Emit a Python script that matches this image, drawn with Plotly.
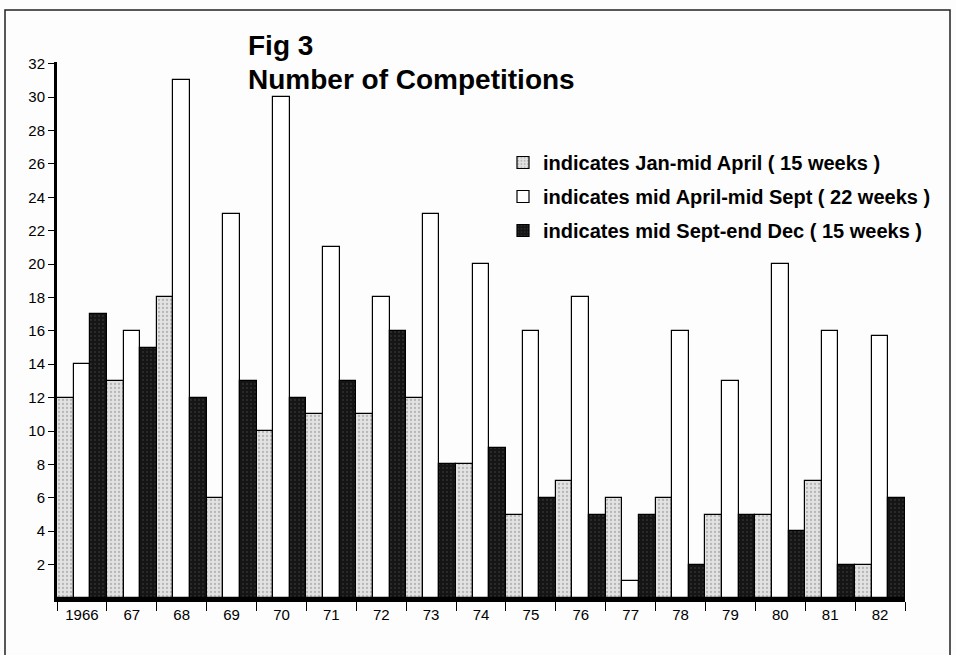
import plotly.graph_objects as go

years = ["1966", "67", "68", "69", "70", "71", "72", "73", "74", "75", "76",
         "77", "78", "79", "80", "81", "82"]
jan_apr = [12, 13, 18, 6, 10, 11, 11, 12, 8, 5, 7, 6, 6, 5, 5, 7, 2]
apr_sep = [14, 16, 31, 23, 30, 21, 18, 23, 20, 16, 18, 1, 16, 13, 20, 16, 15.7]
sep_dec = [17, 15, 12, 13, 12, 13, 16, 8, 9, 6, 5, 5, 2, 5, 4, 2, 6]
series_names = [
    "indicates Jan-mid April ( 15 weeks )",
    "indicates mid April-mid Sept ( 22 weeks )",
    "indicates mid Sept-end Dec ( 15 weeks )",
]
title_lines = ["Fig 3", "Number of Competitions"]
y_ticks = list(range(2, 33, 2))

FONT = "Liberation Sans, Arial, Helvetica, sans-serif"
L, R, T, B = 57, 51, 62, 57
W, H = 956, 655
PW, PH = W - L - R, H - T - B


def px_x(x):
    return (x - L) / PW


def px_y(y):
    return (H - B - y) / PH


fig = go.Figure()
styles = [
    dict(color="#dedede", pattern=dict(shape=".", fgcolor="#8a8a8a", bgcolor="#e2e2e2", size=4, solidity=0.25)),
    dict(color="#ffffff"),
    dict(color="#151515", pattern=dict(shape=".", fgcolor="#4a4a4a", bgcolor="#151515", size=4, solidity=0.2)),
]
for name, vals, st, grp in zip(series_names, [jan_apr, apr_sep, sep_dec], styles, ["a", "b", "c"]):
    marker = dict(line=dict(color="#000000", width=1.2))
    marker.update(st)
    fig.add_trace(go.Bar(x=years, y=vals, name=name, legendgroup=grp, marker=marker))

fig.update_layout(
    width=W, height=H, autosize=False,
    paper_bgcolor="#fdfdfd", plot_bgcolor="rgba(0,0,0,0)",
    margin=dict(l=L, r=R, t=T, b=B),
    barmode="group", bargap=0, bargroupgap=0,
    font=dict(family=FONT, color="#000000"),
    showlegend=True,
    legend=dict(
        x=px_x(503), y=px_y(143), xanchor="left", yanchor="top",
        bgcolor="rgba(0,0,0,0)", traceorder="grouped", tracegroupgap=5,
        font=dict(family=FONT, size=20, color="#000000", weight="bold"),
        itemwidth=30,
    ),
)

for text, ypx in zip(title_lines, [46, 79]):
    fig.add_annotation(
        text=text, xref="paper", yref="paper", x=px_x(246), y=px_y(ypx),
        xanchor="left", yanchor="middle", showarrow=False,
        font=dict(family=FONT, size=28, color="#000000", weight="bold"),
    )

fig.update_xaxes(
    type="category", showline=True, linecolor="#000000", linewidth=4,
    ticks="outside", tickson="boundaries", ticklen=9, tickwidth=1.2, tickcolor="#000000",
    tickfont=dict(size=15, family=FONT), showgrid=False, zeroline=False,
)
fig.update_yaxes(
    range=[0, 32.1], tickvals=y_ticks, ticktext=[str(v) for v in y_ticks],
    showline=True, linecolor="#000000", linewidth=3,
    ticks="outside", ticklen=6, tickwidth=1.2, tickcolor="#000000",
    tickfont=dict(size=15, family=FONT), showgrid=False, zeroline=False,
)

# page frame
fig.add_shape(type="rect", xref="paper", yref="paper",
              x0=px_x(5), x1=px_x(950), y0=px_y(H + 20), y1=px_y(10),
              line=dict(color="#222222", width=1.5), fillcolor="rgba(0,0,0,0)")

post = (
    "document.body.style.margin='0';"
    "document.body.style.overflow='hidden';"
)

fig.write_html(
    "out.html",
    config={"responsive": False, "displayModeBar": False},
    post_script=post,
)
